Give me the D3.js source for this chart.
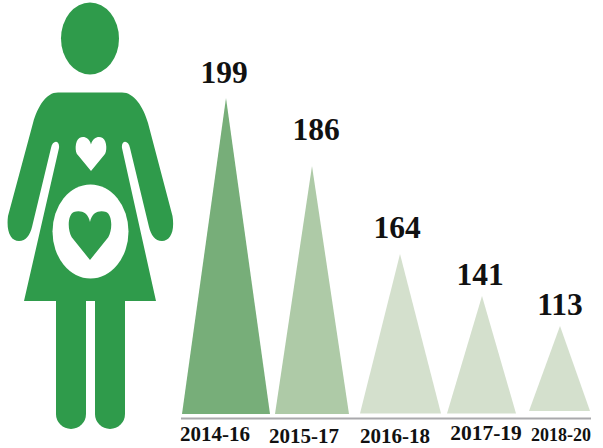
<!DOCTYPE html>
<html><head><meta charset="utf-8">
<script src="https://cdn.jsdelivr.net/npm/d3@7/dist/d3.min.js"></script>
<style>html,body{margin:0;padding:0;background:#fff}svg{display:block}text{font-family:"Liberation Serif",serif;font-weight:700;fill:#111}</style>
</head><body><svg id="c" width="603" height="448"></svg>
<script>
const periods = ["2014-16","2015-17","2016-18","2017-19","2018-20"];
const births = [199,186,164,141,113];

const svg = d3.select("#c");
const green = "#2f9b4b";

// Layout of the infographic: the source spaces its marks by hand, so scales are explicit
const xApex = d3.scaleOrdinal().domain(periods).range([226,312,400,482,560]);
const xLeft = d3.scaleOrdinal().domain(periods).range([182,275,360,447,529]);
const xRight = d3.scaleOrdinal().domain(periods).range([270,349,441,516,590]);
const yBase = d3.scaleOrdinal().domain(periods).range([414,414,413.5,413.5,411]);
const fill = d3.scaleOrdinal().domain(periods).range(["#77ae79","#aecaa7","#d4e0cd","#d4e0cd","#d4e0cd"]);
const y = d3.scaleLinear().domain([113,141,164,186,199]).range([326,296,254,166,98]);
const xLabel = d3.scaleOrdinal().domain(periods).range([224,316,397,480,560]);
const yLabel = d3.scaleOrdinal().domain(periods).range([83,140,238,285,315]);
const xTick = d3.scaleOrdinal().domain(periods).range([215,304,395,486,561]);
const yTick = d3.scaleOrdinal().domain(periods).range([441,442.5,443,440,440.5]);
const tickSize = d3.scaleOrdinal().domain(periods).range([21,21,21,21.5,18]);

// Figure
const fig = svg.append("g").attr("fill",green);
fig.append("ellipse").attr("cx",90).attr("cy",38.5).attr("rx",29).attr("ry",36);
fig.append("path").attr("d",
 "M58,92.5 L122,92.5 C134,92.5 143,106 148,123 L172.5,216 C175,232 170,241 162,241 C155,241 151,235 149,227 L130,148 C128.5,139.5 121,140 122,148 L156,301 L24,301 L59,148 C60,140 52.5,139.5 51,148 L32,227 C30,235 26,241 19,241 C11,241 6,232 8,216 L33,123 C38,106 46,92.5 58,92.5 Z");
fig.append("path").attr("d","M56,300 L86,300 L86,414 A15,15 0 0 1 56,414 Z");
fig.append("path").attr("d","M95,300 L125,300 L125,414 A15,15 0 0 1 95,414 Z");
const heart = (cx,top,notch,bottom,hw)=>`M${cx},${notch} C${cx-2},${top} ${cx-hw*0.5},${top-1} ${cx-hw*0.75},${top+1} C${cx-hw*1.05},${top+4} ${cx-hw*1.05},${notch+8} ${cx-hw*0.85},${notch+(bottom-notch)*0.4} L${cx},${bottom} L${cx+hw*0.85},${notch+(bottom-notch)*0.4} C${cx+hw*1.05},${notch+8} ${cx+hw*1.05},${top+4} ${cx+hw*0.75},${top+1} C${cx+hw*0.5},${top-1} ${cx+2},${top} ${cx},${notch} Z`;
svg.append("path").attr("fill","#fff").attr("d",heart(91,137,144.5,171,15.5));
svg.append("ellipse").attr("fill","#fff").attr("cx",90.5).attr("cy",231.5).attr("rx",38).attr("ry",47);
svg.append("path").attr("fill",green).attr("d",heart(90,211,222,260,21.5));

// Triangles
const line = d3.line();
svg.append("g").selectAll("path").data(periods).join("path")
  .attr("fill",d=>fill(d))
  .attr("d",(d,i)=>line([[xLeft(d),yBase(d)],[xApex(d),y(births[i])],[xRight(d),yBase(d)]])+"Z");

// Baseline
svg.append("line").attr("x1",181).attr("x2",591).attr("y1",418.5).attr("y2",418.5)
  .attr("stroke","#a9a9ac").attr("stroke-width",2);

// Value labels
svg.append("g").selectAll("text").data(periods).join("text")
  .attr("x",d=>xLabel(d)).attr("y",d=>yLabel(d)).attr("text-anchor","middle")
  .attr("font-size",31.5).text((d,i)=>births[i]);

// Period labels
svg.append("g").selectAll("text").data(periods).join("text")
  .attr("x",d=>xTick(d)).attr("y",d=>yTick(d)).attr("text-anchor","middle")
  .attr("font-size",d=>tickSize(d)).text(d=>d);
</script></body></html>
